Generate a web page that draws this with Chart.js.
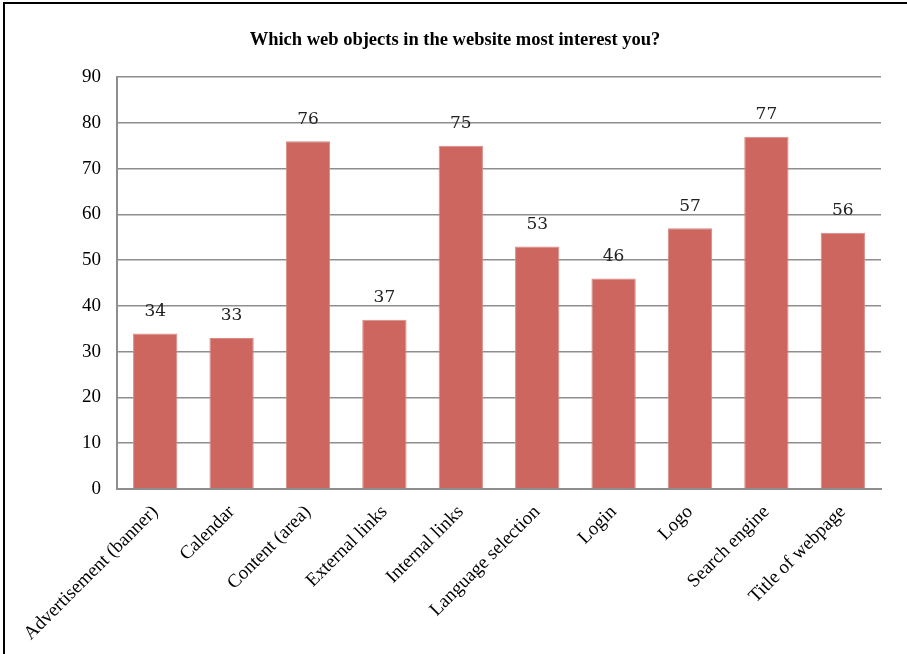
<!DOCTYPE html>
<html>
<head>
<meta charset="utf-8">
<script src="https://cdn.jsdelivr.net/npm/chart.js@4"></script>
<style>
  html, body { margin: 0; padding: 0; background: #fff; overflow: hidden; }
  #frame {
    position: absolute; left: 3px; top: 2px;
    width: 920px; height: 680px;
    border: 2px solid #000;
    box-sizing: border-box;
  }
  #wrap { position: absolute; left: 5px; top: 4px; width: 902px; height: 650px; }
</style>
</head>
<body>
<div id="frame"></div>
<div id="wrap"><canvas id="chart"></canvas></div>
<script>
const categories = [
  "Advertisement (banner)", "Calendar", "Content (area)", "External links",
  "Internal links", "Language selection", "Login", "Logo",
  "Search engine", "Title of webpage"
];
const values = [34, 33, 76, 37, 75, 53, 46, 57, 77, 56];
const yTicks = [0, 10, 20, 30, 40, 50, 60, 70, 80, 90];

// value labels drawn above each bar
const valueLabels = {
  id: "valueLabels",
  afterDatasetsDraw(chart) {
    const ctx = chart.ctx;
    const meta = chart.getDatasetMeta(0);
    ctx.save();
    ctx.font = "17px 'DejaVu Serif'";
    ctx.fillStyle = "#222";
    ctx.textAlign = "center";
    ctx.textBaseline = "middle";
    meta.data.forEach((bar, i) => {
      ctx.fillText(String(values[i]), bar.x, bar.y - 22);
    });
    ctx.restore();
  },
};

new Chart(document.getElementById("chart"), {
  type: "bar",
  data: {
    labels: categories,
    datasets: [{
      data: values,
      backgroundColor: "#cc665f",
      borderColor: "#d88a84",
      borderWidth: 1,
      barPercentage: 0.58,
      categoryPercentage: 1,
    }],
  },
  options: {
    responsive: true,
    maintainAspectRatio: false,
    animation: false,
    layout: { padding: { left: 24, right: 26, top: 0, bottom: 0 } },
    plugins: {
      legend: { display: false },
      tooltip: { enabled: false },
      title: {
        display: true,
        text: "Which web objects in the website most interest you?",
        color: "#000",
        font: { family: "'Liberation Serif'", size: 18.5, weight: "bold" },
        padding: { top: 25, bottom: 26 },
      },
    },
    scales: {
      x: {
        grid: { display: false },
        border: { color: "#8e8e8e", width: 2 },
        ticks: {
          color: "#000",
          font: { family: "'Liberation Serif'", size: 19 },
          minRotation: 45,
          maxRotation: 45,
          padding: 4,
        },
        afterFit(scale) { scale.height = 165; },
      },
      y: {
        min: 0,
        max: 90,
        afterBuildTicks(scale) { scale.ticks = yTicks.map(v => ({ value: v })); },
        grid: { color: "#8e8e8e", lineWidth: 1.5, drawTicks: false },
        border: { color: "#8e8e8e", width: 2 },
        ticks: {
          color: "#000",
          font: { family: "'Liberation Serif'", size: 19 },
          padding: 16,
        },
        afterFit(scale) { scale.width = 88; },
      },
    },
  },
  plugins: [valueLabels],
});
</script>
</body>
</html>
